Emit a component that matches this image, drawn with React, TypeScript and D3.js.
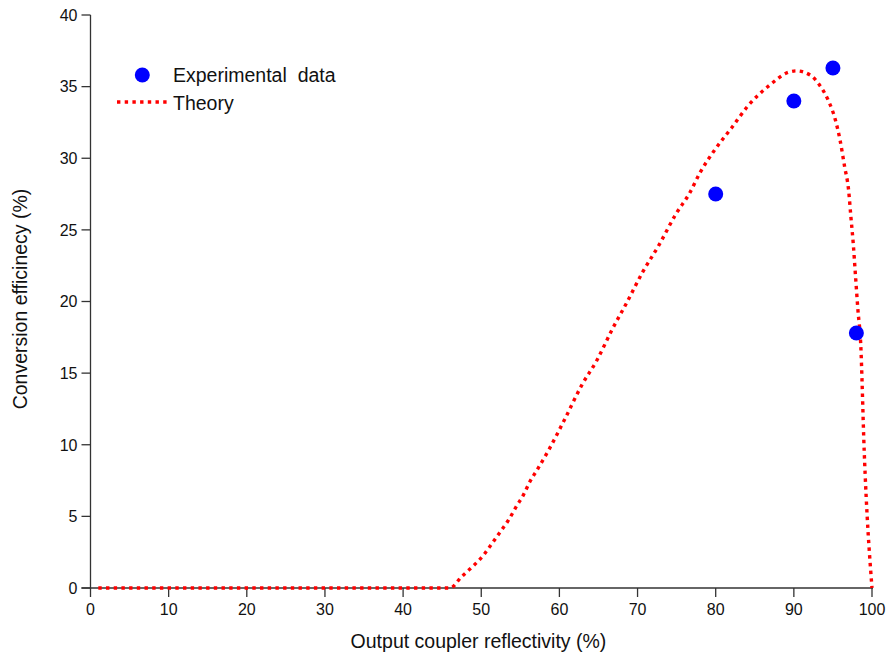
import React from "react";
import * as d3 from "d3";

const xTicks = [0, 10, 20, 30, 40, 50, 60, 70, 80, 90, 100];
const yTicks = [0, 5, 10, 15, 20, 25, 30, 35, 40];

const expX = [80, 90, 95, 98];
const expY = [27.5, 34.0, 36.3, 17.8];

const theoryX = [1, 46, 47.5, 49, 50.3, 51.3, 52.4, 53.5, 54.5, 55.4, 56.2, 57.1, 58.6, 60.7, 62.9, 64.8, 66.8, 68.6, 70.7, 72.7, 74.9, 76.7, 78.0, 79.9, 82.0, 84.2, 86.9, 89.3, 90.3, 92.1, 93.3, 94.4, 95.3, 95.9, 96.5, 97.0, 97.3, 97.6, 97.9, 98.2, 98.55, 99.0, 100];
const theoryY = [0, 0, 0.8, 1.55, 2.3, 3.05, 3.9, 4.75, 5.7, 6.5, 7.4, 8.2, 9.6, 11.8, 14.2, 15.9, 18.1, 19.9, 22.1, 23.9, 26.1, 27.6, 29.0, 30.6, 32.1, 33.7, 35.1, 36.0, 36.1, 35.8, 35.1, 34.05, 32.7, 31.3, 29.4, 27.8, 25.9, 24.05, 21.7, 19.4, 17.1, 9.6, 0];

const seriesNames = ["Experimental  data", "Theory"];
const xTitle = "Output coupler reflectivity (%)";
const yTitle = "Conversion efficinecy (%)";

export default function App() {
  const W = 888, H = 653;
  const x = d3.scaleLinear().domain([0, 100]).range([90.5, 872]);
  const y = d3.scaleLinear().domain([0, 40]).range([588, 15]);
  const font = "Arial, 'Liberation Sans', Helvetica, sans-serif";
  const axisColor = "#333";

  const theory = theoryX.map((v, i) => [v, theoryY[i]] as [number, number]);
  const line = d3
    .line<[number, number]>()
    .x((d) => x(d[0]))
    .y((d) => y(d[1]))
    .curve(d3.curveMonotoneX);

  return (
    <svg width={W} height={H} style={{ position: "absolute", left: 0, top: 0, background: "#fff" }} fontFamily={font}>
      {/* axes */}
      <line x1={x(0)} x2={x(0)} y1={y(40)} y2={y(0)} stroke={axisColor} strokeWidth={1.3} />
      <line x1={x(0) - 9} x2={x(100) + 1} y1={y(0)} y2={y(0)} stroke={axisColor} strokeWidth={1.3} />
      {yTicks.map((t) => (
        <g key={"y" + t}>
          <line x1={x(0) - 9} x2={x(0)} y1={y(t)} y2={y(t)} stroke={axisColor} strokeWidth={1.3} />
          <text x={x(0) - 13} y={y(t)} dy="0.36em" textAnchor="end" fontSize={16} fill="#111">
            {t}
          </text>
        </g>
      ))}
      {xTicks.map((t) => (
        <g key={"x" + t}>
          <line x1={x(t)} x2={x(t)} y1={y(0)} y2={y(0) + 9} stroke={axisColor} strokeWidth={1.3} />
          <text x={x(t)} y={615} textAnchor="middle" fontSize={16} fill="#111">
            {t}
          </text>
        </g>
      ))}
      <text x={478.5} y={648} textAnchor="middle" fontSize={19.5} fill="#111">
        {xTitle}
      </text>
      <text
        transform={`translate(27, 299) rotate(-90)`}
        textAnchor="middle"
        fontSize={19.5}
        fill="#111"
      >
        {yTitle}
      </text>

      {/* theory */}
      <path d={line(theory) || ""} fill="none" stroke="#ff0000" strokeWidth={3.4} strokeDasharray="3.4 4.3" />

      {/* experimental */}
      {expX.map((v, i) => (
        <circle key={"e" + i} cx={x(v)} cy={y(expY[i])} r={7.5} fill="#0000ff" />
      ))}

      {/* legend */}
      <circle cx={142.3} cy={75} r={7.5} fill="#0000ff" />
      <text x={173} y={82} fontSize={19.5} fill="#111" style={{ whiteSpace: "pre" }}>
        {seriesNames[0]}
      </text>
      <line x1={117} x2={167} y1={102} y2={102} stroke="#ff0000" strokeWidth={3.4} strokeDasharray="3.4 4.3" />
      <text x={173} y={110} fontSize={19.5} fill="#111">
        {seriesNames[1]}
      </text>
    </svg>
  );
}
